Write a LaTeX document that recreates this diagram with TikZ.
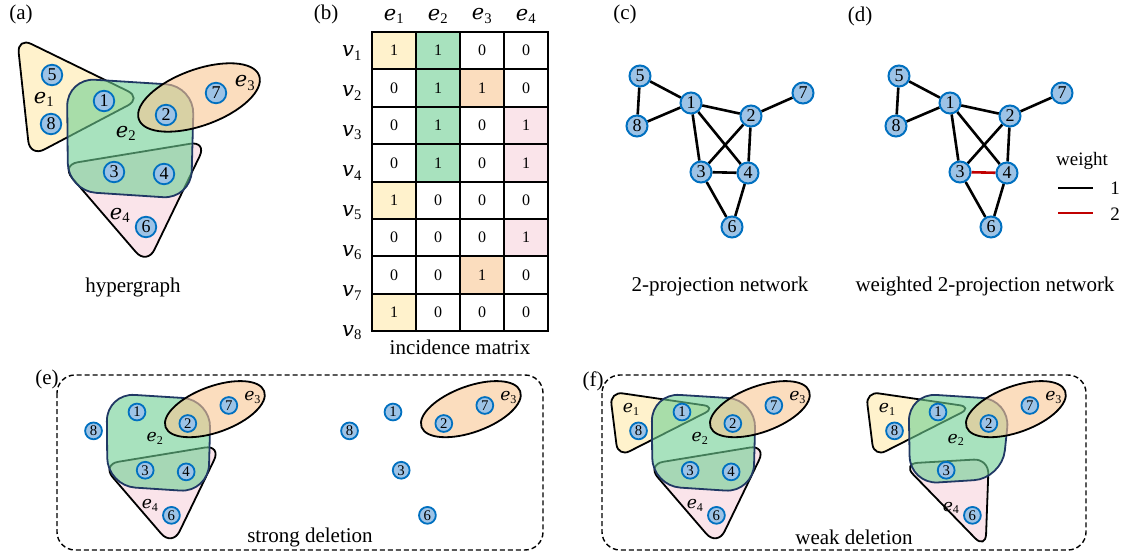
\documentclass[tikz,border=0pt]{standalone}
\usepackage{fontspec}
\setmainfont{Liberation Serif}
\newfontfamily\symfont{DejaVu Serif}
\usetikzlibrary{positioning,backgrounds}
\definecolor{nodeblue}{HTML}{9DC3E6}
\definecolor{nodeline}{HTML}{0070C0}
\definecolor{edgeyellow}{RGB}{255,233,170}
\definecolor{edgegreen}{RGB}{110,207,147}
\definecolor{edgeorange}{RGB}{248,198,147}
\definecolor{edgepink}{RGB}{247,210,220}
\definecolor{cellyellow}{RGB}{255,242,204}
\definecolor{cellgreen}{RGB}{168,226,190}
\definecolor{cellorange}{RGB}{251,221,190}
\definecolor{cellpink}{RGB}{250,228,234}
\definecolor{navyline}{HTML}{203864}
\definecolor{darkred}{HTML}{C00000}
\newcommand{\sym}[2]{{\symfont\itshape #1}\textsubscript{#2}}
\tikzset{
  vtx/.style={circle,draw=nodeline,fill=nodeblue,line width=1.8pt,inner sep=0pt,
    minimum size=20.5pt,font=\fontsize{18}{18}\selectfont},
  gvtx/.style={vtx,minimum size=21pt,line width=2pt,font=\fontsize{18}{18}\selectfont},
  hedge/.style={line width=1.8pt,fill opacity=0.6},
  lbl/.style={font=\fontsize{21}{24}\selectfont},
  elbl/.style={font=\fontsize{21}{24}\selectfont,inner sep=0pt},
  cell/.style={minimum width=44pt,minimum height=37.4pt,inner sep=0pt,outer sep=0pt,
    font=\fontsize{16}{16}\selectfont},
  gedge/.style={line width=2.6pt},
  delbox/.style={draw,line width=1.4pt,rounded corners=18pt,dash pattern=on 5pt off 3pt}
}
% hyperedge outlines, in the coordinates of panel (a)
\newcommand{\eone}{\draw[hedge,fill=edgeyellow,rounded corners=16pt] (17,37) -- (142,98) -- (30,157) -- cycle;}
\newcommand{\eoneshort}{\draw[hedge,fill=edgeyellow,rounded corners=13pt] (16,76) -- (146,95) -- (26,156) -- cycle;}
\newcommand{\etwo}{\draw[hedge,draw=navyline,fill=edgegreen,rounded corners=28pt] (67,78) -- (194,86) -- (191,199) -- (68,191) -- cycle;}
\newcommand{\etwoshort}{\draw[hedge,draw=navyline,fill=edgegreen,rounded corners=28pt] (68,78) -- (192,86) -- (182,182) -- (70,189) -- cycle;}
\newcommand{\ethree}{\draw[hedge,fill=edgeorange,rotate around={20:(199,97.5)}] (199,97.5) ellipse[x radius=64pt,y radius=28pt];}
\newcommand{\efour}{\draw[hedge,fill=edgepink,rounded corners=17pt] (61,165) -- (207,141) -- (147,265) -- cycle;}
\newcommand{\efourshort}{\draw[hedge,fill=edgepink,rounded corners=15pt] (61,164) -- (166,158) -- (162,268) -- cycle;}
\begin{document}
\begin{tikzpicture}[x=1pt,y=-1pt]
\useasboundingbox (0,0) rectangle (1133,556);
% panel labels
\node[lbl] (la) at (21,14) {(a)};
\node[lbl] (lb) at (326,14) {(b)};
\node[lbl] (lc) at (625,14) {(c)};
\node[lbl] (ld) at (860,16) {(d)};
\node[lbl] (le) at (47,379) {(e)};
\node[lbl] (lf) at (593,381) {(f)};
%
% (a) hypergraph
\eone \efour \etwo \ethree
\node[vtx] (a5) at (52,75) {5};
\node[vtx] (a8) at (51,124) {8};
\node[vtx] (a1) at (104,101) {1};
\node[vtx] (a2) at (166,115) {2};
\node[vtx] (a7) at (216,93) {7};
\node[vtx] (a3) at (114,172) {3};
\node[vtx] (a4) at (164,174) {4};
\node[vtx] (a6) at (146,227) {6};
\node[elbl] (ae1) at (44,99) {\sym{e}{1}};
\node[elbl] (ae2) at (126,133) {\sym{e}{2}};
\node[elbl] (ae3) at (245,83) {\sym{e}{3}};
\node[elbl] (ae4) at (120,215) {\sym{e}{4}};
\node[lbl] (capa) at (133,287) {hypergraph};
%
% (b) incidence matrix
\foreach \row/\va/\vb/\vc/\vd/\fa/\fb/\fc/\fd in {
  1/1/1/0/0/cellyellow/cellgreen/white/white,
  2/0/1/1/0/white/cellgreen/cellorange/white,
  3/0/1/0/1/white/cellgreen/white/cellpink,
  4/0/1/0/1/white/cellgreen/white/cellpink,
  5/1/0/0/0/cellyellow/white/white/white,
  6/0/0/0/1/white/white/white/cellpink,
  7/0/0/1/0/white/white/cellorange/white,
  8/1/0/0/0/cellyellow/white/white/white}{
  \node[cell,fill=\fa] (m\row1) at (394,13.3+37.4*\row) {\va};
  \node[cell,fill=\fb] (m\row2) at (438,13.3+37.4*\row) {\vb};
  \node[cell,fill=\fc] (m\row3) at (482,13.3+37.4*\row) {\vc};
  \node[cell,fill=\fd] (m\row4) at (526,13.3+37.4*\row) {\vd};
  \node[elbl] (v\row) at (352,13+40*\row) {\sym{v}{\row}};
}
\foreach \row in {1,...,8}
  \foreach \col in {1,...,4}
    \draw[line width=2pt] (m\row\col.south west) rectangle (m\row\col.north east);
\foreach \col in {1,...,4}
  \node[elbl] (h\col) at (350+44*\col,16) {\sym{e}{\col}};
\node[lbl] (capb) at (460,347) {incidence matrix};
%
% (c) and (d) projection networks
\foreach \pn/\dx in {c/0,d/259}{
  \begin{scope}[shift={(\dx,0)}]
    \node[gvtx] (\pn5) at (640,76) {5};
    \node[gvtx] (\pn8) at (637,126) {8};
    \node[gvtx] (\pn1) at (691,103) {1};
    \node[gvtx] (\pn2) at (751,116) {2};
    \node[gvtx] (\pn7) at (803,93) {7};
    \node[gvtx] (\pn3) at (701,172) {3};
    \node[gvtx] (\pn4) at (748,173) {4};
    \node[gvtx] (\pn6) at (732,227) {6};
  \end{scope}
  \begin{scope}[on background layer]
  \foreach \u/\w in {5/1,5/8,8/1,1/2,1/3,1/4,2/3,2/4,2/7,3/6,4/6}
    \draw[gedge] (\pn\u) -- (\pn\w);
  \end{scope}
}
\begin{scope}[on background layer]
\draw[gedge] (c3) -- (c4);
\draw[gedge,darkred] (d3) -- (d4);
\end{scope}
\node[lbl] (capc) at (720,286) {2-projection network};
\node[lbl] (capd) at (985,286) {weighted 2-projection network};
% legend
\node[lbl,font=\fontsize{19}{22}\selectfont] (wt) at (1082,161) {weight};
\coordinate (w1a) at (1058,188);
\coordinate (w1b) at (1093,188);
\coordinate (w2a) at (1058,213);
\coordinate (w2b) at (1093,213);
\draw[gedge] (w1a) -- (w1b);
\draw[gedge,darkred] (w2a) -- (w2b);
\node[lbl,font=\fontsize{19}{22}\selectfont] (wl1) at (1115,188) {1};
\node[lbl,font=\fontsize{19}{22}\selectfont] (wl2) at (1115,214) {2};
%
% (e) strong deletion
\draw[delbox] (57,375) rectangle (543,550);
\begin{scope}[shift={(51.7,329.2)},scale=0.82,transform shape]
  \efour \etwo \ethree
  \node[vtx] (e8) at (51,124) {8};
  \node[vtx] (e1) at (104,101) {1};
  \node[vtx] (e2) at (166,115) {2};
  \node[vtx] (e7) at (216,93) {7};
  \node[vtx] (e3) at (114,172) {3};
  \node[vtx] (e4) at (164,174) {4};
  \node[vtx] (e6) at (146,227) {6};
  \node[elbl] (ee2) at (126,133) {\sym{e}{2}};
  \node[elbl] (ee3) at (245,83) {\sym{e}{3}};
  \node[elbl] (ee4) at (120,215) {\sym{e}{4}};
\end{scope}
\begin{scope}[shift={(307.7,329.2)},scale=0.82,transform shape]
  \ethree
  \node[vtx] (s8) at (51,124) {8};
  \node[vtx] (s1) at (104,101) {1};
  \node[vtx] (s2) at (166,115) {2};
  \node[vtx] (s7) at (216,93) {7};
  \node[vtx] (s3) at (114,172) {3};
  \node[vtx] (s6) at (146,227) {6};
  \node[elbl] (se3) at (245,83) {\sym{e}{3}};
\end{scope}
\node[lbl] (cape) at (310,537) {strong deletion};
%
% (f) weak deletion
\draw[delbox] (602,375) rectangle (1086,550);
\begin{scope}[shift={(596.7,329.2)},scale=0.82,transform shape]
  \eoneshort \efour \etwo \ethree
  \node[vtx] (f8) at (51,124) {8};
  \node[vtx] (f1) at (104,101) {1};
  \node[vtx] (f2) at (166,115) {2};
  \node[vtx] (f7) at (216,93) {7};
  \node[vtx] (f3) at (114,172) {3};
  \node[vtx] (f4) at (164,174) {4};
  \node[vtx] (f6) at (146,227) {6};
  \node[elbl] (fe1) at (42,98) {\sym{e}{1}};
  \node[elbl] (fe2) at (126,133) {\sym{e}{2}};
  \node[elbl] (fe3) at (245,83) {\sym{e}{3}};
  \node[elbl] (fe4) at (120,215) {\sym{e}{4}};
\end{scope}
\begin{scope}[shift={(852.7,329.2)},scale=0.82,transform shape]
  \eoneshort \efourshort \etwoshort \ethree
  \node[vtx] (w8) at (51,124) {8};
  \node[vtx] (w1) at (104,101) {1};
  \node[vtx] (w2) at (166,115) {2};
  \node[vtx] (w7) at (216,93) {7};
  \node[vtx] (w3) at (114,172) {3};
  \node[vtx] (w6) at (146,227) {6};
  \node[elbl] (we1) at (42,98) {\sym{e}{1}};
  \node[elbl] (we2) at (126,135) {\sym{e}{2}};
  \node[elbl] (we3) at (245,83) {\sym{e}{3}};
  \node[elbl] (we4) at (120,218) {\sym{e}{4}};
\end{scope}
\node[lbl] (capf) at (854,537) {weak deletion};
\end{tikzpicture}
\end{document}
